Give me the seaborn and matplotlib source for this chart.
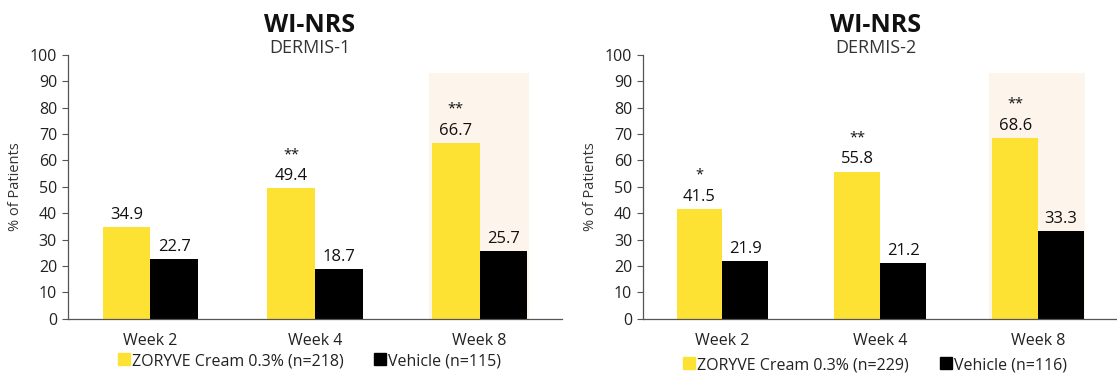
import pandas as pd
import numpy as np
import matplotlib
matplotlib.use('Agg')
import matplotlib.pyplot as plt
from matplotlib.lines import Line2D
from matplotlib.patches import Rectangle
import seaborn as sns

# Данные
weeks = ['Week 2', 'Week 4', 'Week 8']
groups = ['ZORYVE', 'Vehicle']
d1_zoryve = [34.9, 49.4, 66.7]
d1_vehicle = [22.7, 18.7, 25.7]
d1_stars = ['', '**', '**']
d2_zoryve = [41.5, 55.8, 68.6]
d2_vehicle = [21.9, 21.2, 33.3]
d2_stars = ['*', '**', '**']
studies = ['DERMIS-1', 'DERMIS-2']
legend_labels = [['ZORYVE Cream 0.3% (n=218)', 'Vehicle (n=115)'],
                 ['ZORYVE Cream 0.3% (n=229)', 'Vehicle (n=116)']]

yellow = '#FDE234'
black = '#000000'
highlight = '#FDF4EC'
spine_col = '#555555'

sns.set_style('white')
plt.rcParams['font.family'] = ['Open Sans', 'DejaVu Sans']

fig = plt.figure(figsize=(11.17, 3.76), dpi=100)
ax1 = fig.add_axes([0.061, 0.152, 0.442, 0.702])
ax2 = fig.add_axes([0.576, 0.152, 0.424, 0.702])

data_sets = [(d1_zoryve, d1_vehicle, d1_stars), (d2_zoryve, d2_vehicle, d2_stars)]

for i, (ax, (zor, veh, stars)) in enumerate(zip([ax1, ax2], data_sets)):
    df = pd.DataFrame({
        'week': weeks * 2,
        'group': ['ZORYVE'] * 3 + ['Vehicle'] * 3,
        'value': zor + veh,
    })
    # подсветка Week 8
    ax.add_patch(Rectangle((1.69, 0), 0.61, 93, color=highlight, zorder=0, lw=0))
    sns.barplot(data=df, x='week', y='value', hue='group', hue_order=groups,
                palette=[yellow, black], width=0.58, saturation=1,
                linewidth=0, edgecolor='none',
                ax=ax, legend=False, zorder=2)

    for j, c in enumerate(ax.containers):
        vals = zor if j == 0 else veh
        for k, bar in enumerate(c):
            cx = bar.get_x() + bar.get_width() / 2
            ax.annotate(f'{vals[k]:.1f}', (cx, vals[k]), xytext=(0, 3),
                        textcoords='offset points', ha='center', va='bottom',
                        fontsize=12, color='#111111')
            if j == 0 and stars[k]:
                ax.annotate(stars[k], (cx, vals[k]), xytext=(0, 19),
                            textcoords='offset points', ha='center', va='bottom',
                            fontsize=10.5, color='#111111')

    ax.set_xlim(-0.5, 2.5)
    ax.set_ylim(0, 100)
    ax.set_yticks(np.arange(0, 101, 10))
    ax.set_xlabel('')
    ax.set_ylabel('% of Patients', fontsize=10.5, color='#333333', labelpad=5)
    ax.tick_params(axis='y', left=True, length=4, color=spine_col, labelsize=11.5,
                   labelcolor='#222222', width=0.8, pad=4)
    ax.tick_params(axis='x', bottom=False, labelsize=11.5, labelcolor='#222222', pad=7)
    for s in ['top', 'right']:
        ax.spines[s].set_visible(False)
    for s in ['left', 'bottom']:
        ax.spines[s].set_color(spine_col)
        ax.spines[s].set_linewidth(0.9)

    ax.text(0.49, 1.113, 'WI-NRS', transform=ax.transAxes, ha='center', va='center',
            fontsize=18, fontweight='bold', color='#111111')
    ax.text(0.49, 1.028, studies[i], transform=ax.transAxes, ha='center', va='center',
            fontsize=13, color='#333333')

    handles = [Line2D([], [], marker='s', ls='', color=yellow, markersize=8),
               Line2D([], [], marker='s', ls='', color=black, markersize=8)]
    ax.legend(handles, legend_labels[i], loc='center', bbox_to_anchor=(0.49, -0.16 - 0.015 * i),
              ncol=2, frameon=False, fontsize=11.5, handlelength=0.6,
              handletextpad=0.2, columnspacing=2.0, labelcolor='#222222')

fig.savefig('out.png', dpi=100)
